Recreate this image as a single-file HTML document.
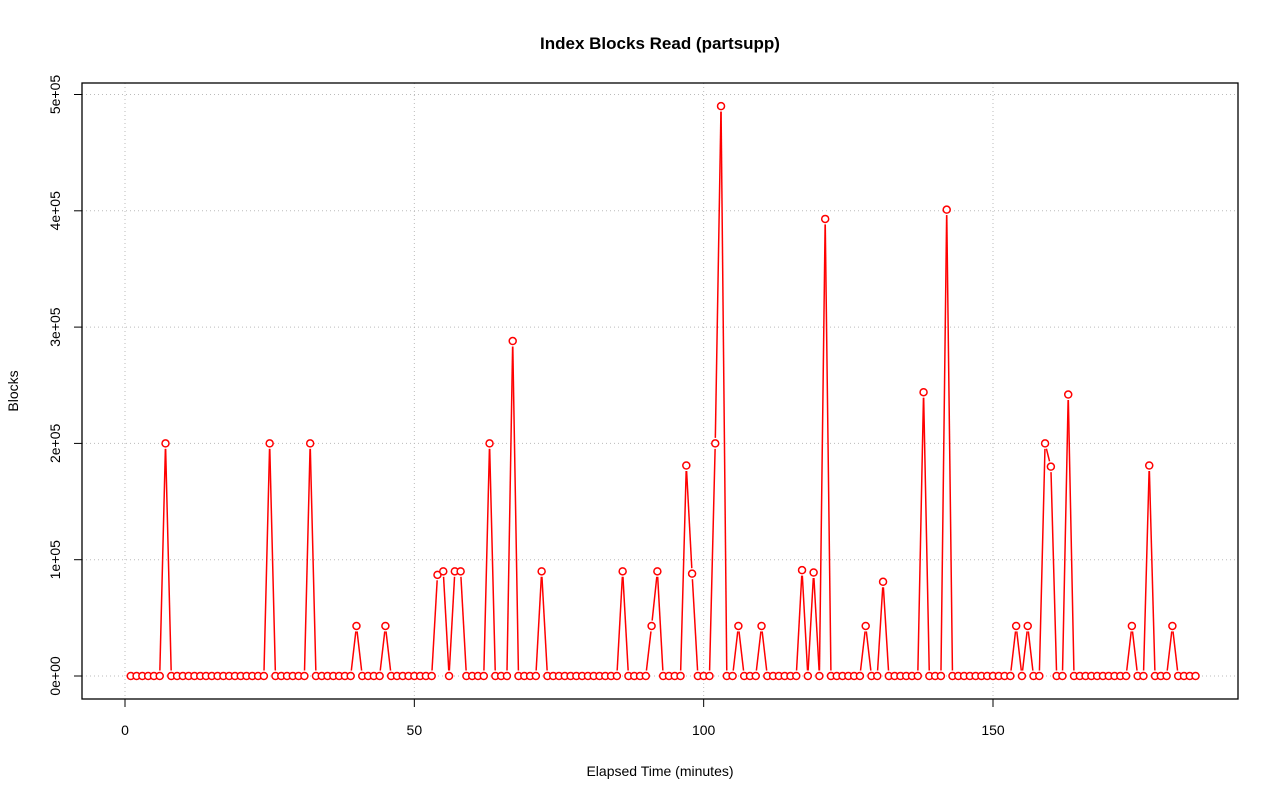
<!DOCTYPE html>
<html><head><meta charset="utf-8"><style>
html,body{margin:0;padding:0;background:#fff;}
svg{display:block;font-family:"Liberation Sans",Arial,sans-serif;}
</style></head><body>
<svg id="chart" width="1280" height="801" viewBox="0 0 1280 801" xmlns="http://www.w3.org/2000/svg">
<rect width="1280" height="801" fill="#fff"/>
<text x="660" y="49" text-anchor="middle" font-size="17" font-weight="bold">Index Blocks Read (partsupp)</text>
<text x="660" y="776" text-anchor="middle" font-size="14">Elapsed Time (minutes)</text>
<text transform="translate(18,391) rotate(-90)" text-anchor="middle" font-size="14">Blocks</text>
<g id="grid"></g>
<g id="axes"></g>
<g id="series"></g>
<rect x="82" y="83" width="1156" height="616" fill="none" stroke="#000" stroke-width="1.3"/>
</svg>
<script>
const xTicks = [0, 50, 100, 150];
const yTicks = [0, 100000, 200000, 300000, 400000, 500000];
const yTickLabels = ["0e+00","1e+05","2e+05","3e+05","4e+05","5e+05"];
const blocks = [
0,0,0,0,0,0,200000,0,0,0,
0,0,0,0,0,0,0,0,0,0,
0,0,0,0,200000,0,0,0,0,0,
0,200000,0,0,0,0,0,0,0,43000,
0,0,0,0,43000,0,0,0,0,0,
0,0,0,87000,90000,0,90000,90000,0,0,
0,0,200000,0,0,0,288000,0,0,0,
0,90000,0,0,0,0,0,0,0,0,
0,0,0,0,0,90000,0,0,0,0,
43000,90000,0,0,0,0,181000,88000,0,0,
0,200000,490000,0,0,43000,0,0,0,43000,
0,0,0,0,0,0,91000,0,89000,0,
393000,0,0,0,0,0,0,43000,0,0,
81000,0,0,0,0,0,0,244000,0,0,
0,401000,0,0,0,0,0,0,0,0,
0,0,0,43000,0,43000,0,0,200000,180000,
0,0,242000,0,0,0,0,0,0,0,
0,0,0,43000,0,0,181000,0,0,0,
43000,0,0,0,0
];
const NS = "http://www.w3.org/2000/svg";
function xs(v){ return 125 + v * (993 - 125) / 150; }
function ys(v){ return 676 - v * (676 - 94.5) / 500000; }
function mk(tag, attrs, parent){ const e = document.createElementNS(NS, tag); for (const k in attrs) e.setAttribute(k, attrs[k]); parent.appendChild(e); return e; }
const grid = document.getElementById('grid'), axes = document.getElementById('axes'), series = document.getElementById('series');
xTicks.forEach(t => {
  const gl = mk('line', {x1: xs(t), x2: xs(t), y1: 83, y2: 699, stroke: '#bbb', 'stroke-dasharray': '1 3'}, grid);
  
  
  const tk = mk('line', {x1: xs(t), x2: xs(t), y1: 699, y2: 707, stroke: '#000'}, axes);
  
  
  const lb = mk('text', {x: xs(t), y: 735, 'text-anchor': 'middle', 'font-size': 14}, axes);
  lb.textContent = t;
  
  
});
yTicks.forEach((t, i) => {
  const gl = mk('line', {x1: 82, x2: 1238, y1: ys(t), y2: ys(t), stroke: '#bbb', 'stroke-dasharray': '1 3'}, grid);
  
  
  const tk = mk('line', {x1: 74, x2: 82, y1: ys(t), y2: ys(t), stroke: '#000'}, axes);
  
  
  const lb = mk('text', {transform: 'translate(60,' + ys(t) + ') rotate(-90)', 'text-anchor': 'middle', 'font-size': 14}, axes);
  lb.textContent = yTickLabels[i];
  
  
});
const gap = 5.5;
for (let i = 0; i < blocks.length - 1; i++) {
  const x1 = xs(i + 1), y1 = ys(blocks[i]), x2 = xs(i + 2), y2 = ys(blocks[i + 1]);
  const dx = x2 - x1, dy = y2 - y1, L = Math.hypot(dx, dy);
  if (L <= 2 * gap) continue;
  const ux = dx / L, uy = dy / L;
  const seg = mk('line', {x1: x1 + ux * gap, y1: y1 + uy * gap, x2: x2 - ux * gap, y2: y2 - uy * gap, stroke: '#f00', 'stroke-width': 1.5}, series);
  
  
}
blocks.forEach((v, i) => {
  const c = mk('circle', {cx: xs(i + 1), cy: ys(v), r: 3.5, fill: '#fff', stroke: '#f00', 'stroke-width': 1.5}, series);
  
  
});
</script>
</body></html>
